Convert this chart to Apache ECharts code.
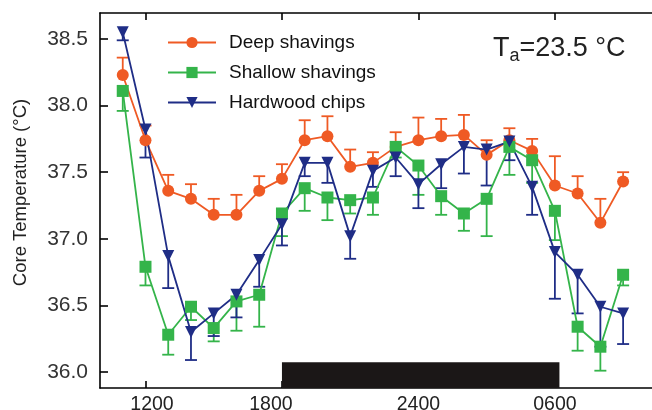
<!DOCTYPE html>
<html>
<head>
<meta charset="utf-8">
<script src="https://cdn.jsdelivr.net/npm/echarts@6/dist/echarts.min.js"></script>
<style>
  html, body { margin: 0; padding: 0; background: #fff; }
  #chart { width: 652px; height: 410px; }
</style>
</head>
<body>
<div id="chart"></div>
<script>
// hours of day, 11:00 on day 1 through 09:00 on day 2
const hours = [11, 12, 13, 14, 15, 16, 17, 18, 19, 20, 21, 22, 23, 24, 25, 26, 27, 28, 29, 30, 31, 32, 33];

const deepMean = [38.23, 37.74, 37.36, 37.30, 37.18, 37.18, 37.36, 37.45, 37.74, 37.77, 37.54, 37.57,
  37.69, 37.74, 37.77, 37.78, 37.63, 37.74, 37.66, 37.40, 37.34, 37.12, 37.43];
const deepErr = [0.13, 0.11, 0.12, 0.11, 0.12, 0.15, 0.11, 0.11, 0.15, 0.15, 0.13, 0.08,
  0.11, 0.17, 0.13, 0.15, 0.11, 0.09, 0.09, 0.22, 0.13, 0.18, 0.07];

const shallowMean = [38.11, 36.79, 36.28, 36.49, 36.33, 36.53, 36.58, 37.19, 37.38, 37.31, 37.29, 37.31,
  37.69, 37.55, 37.32, 37.19, 37.30, 37.69, 37.59, 37.21, 36.34, 36.19, 36.73];
const shallowErr = [0.15, 0.14, 0.15, 0.10, 0.10, 0.22, 0.24, 0.17, 0.17, 0.17, 0.10, 0.13,
  0.08, 0.22, 0.14, 0.13, 0.28, 0.21, 0.17, 0.22, 0.18, 0.18, 0.08];

const hardMean = [38.55, 37.82, 36.87, 36.30, 36.44, 36.58, 36.84, 37.11, 37.57, 37.57, 37.02, 37.51,
  37.61, 37.41, 37.56, 37.69, 37.67, 37.73, 37.39, 36.90, 36.73, 36.49, 36.44];
const hardErr = [0.06, 0.21, 0.24, 0.21, 0.17, 0.17, 0.20, 0.16, 0.10, 0.15, 0.17, 0.12,
  0.14, 0.18, 0.18, 0.20, 0.27, 0.14, 0.21, 0.35, 0.29, 0.30, 0.23];

const xTicks = [12, 18, 24, 30];
const xTickLabels = ["1200", "1800", "2400", "0600"];
const yTicks = [36.0, 36.5, 37.0, 37.5, 38.0, 38.5];
// dark phase, drawn as the black bar along the x axis
const darkPeriod = [18, 30.2];

const font = "Liberation Sans, Arial, sans-serif";
const orange = "#ef5a24";
const green = "#34b44a";
const blue = "#1f2d86";
const yMin = 35.88, yMax = 38.695;

const chart = echarts.init(document.getElementById("chart"));

function pairs(means) {
  return hours.map((h, i) => [h, means[i]]);
}
// one-sided error bar: dir 1 = up, -1 = down
function errData(means, errs, dir) {
  return hours.map((h, i) => [h, means[i], errs[i], dir]);
}
function errSeries(name, data, color) {
  return {
    type: "custom",
    name: name,
    data: data,
    z: 1,
    silent: true,
    renderItem(params, api) {
      const x = api.value(0), y = api.value(1), e = api.value(2), d = api.value(3);
      const p0 = api.coord([x, y]);
      const p1 = api.coord([x, y + d * e]);
      const style = { stroke: color, lineWidth: 1.8 };
      return {
        type: "group",
        children: [
          { type: "line", shape: { x1: p0[0], y1: p0[1], x2: p1[0], y2: p1[1] }, style: style },
          { type: "line", shape: { x1: p1[0] - 6, y1: p1[1], x2: p1[0] + 6, y2: p1[1] }, style: style }
        ]
      };
    }
  };
}
function lineSeries(name, data, color, symbol, rotate, size) {
  return {
    type: "line",
    name: name,
    data: data,
    z: 3,
    symbol: symbol,
    symbolRotate: rotate,
    symbolSize: size,
    showAllSymbol: true,
    lineStyle: { color: color, width: 1.8 },
    itemStyle: { color: color }
  };
}

const xBase = {
  type: "value",
  min: 10,
  max: 34.27,
  splitLine: { show: false },
  axisLine: { lineStyle: { color: "#000", width: 1.6 } },
  axisTick: { inside: true, length: 7, customValues: xTicks, lineStyle: { color: "#000", width: 1.6 } }
};

const labelText = { fontFamily: font, fontSize: 19.5, color: "#222" };

chart.setOption({
  backgroundColor: "#fff",
  animation: false,
  grid: { left: 100, right: 0, top: 13, bottom: 22, outerBoundsMode: "none" },
  title: {
    text: "{n|T}{s|a}{n|=23.5 °C}",
    left: 493,
    top: 33,
    padding: 0,
    textStyle: {
      rich: {
        n: { fontFamily: font, fontSize: 27, fontWeight: "normal", color: "#222" },
        s: { fontFamily: font, fontSize: 18, fontWeight: "normal", color: "#222", verticalAlign: "bottom", padding: [14, 0, 0, 0] }
      }
    }
  },
  legend: {
    orient: "vertical",
    left: 167,
    top: 33,
    padding: 0,
    itemWidth: 48,
    itemHeight: 14,
    itemGap: 11,
    data: ["Deep shavings", "Shallow shavings", "Hardwood chips"],
    textStyle: { fontFamily: font, fontSize: 19, lineHeight: 18, color: "#111", padding: [0, 0, 0, 8] }
  },
  xAxis: [
    Object.assign({}, xBase, {
      position: "bottom",
      axisLabel: {
        customValues: xTicks,
        margin: 7,
        formatter: v => "{t" + xTicks.indexOf(v) + "|" + xTickLabels[xTicks.indexOf(v)] + "}",
        rich: {
          t0: Object.assign({ padding: [0, 0, 0, 13] }, labelText),
          t1: Object.assign({ padding: [0, 22, 0, 0] }, labelText),
          t2: labelText,
          t3: labelText
        }
      }
    }),
    Object.assign({}, xBase, {
      position: "top",
      axisLabel: { show: false }
    })
  ],
  yAxis: {
    type: "value",
    min: yMin,
    max: yMax,
    name: "Core Temperature (°C)",
    nameLocation: "middle",
    nameGap: 70,
    nameTextStyle: { fontFamily: font, fontSize: 18.5, color: "#222", padding: [0, 0, 0, 16] },
    splitLine: { show: false },
    axisLine: { lineStyle: { color: "#000", width: 1.6 } },
    axisTick: { inside: true, length: 8, customValues: yTicks, lineStyle: { color: "#000", width: 1.6 } },
    axisLabel: {
      customValues: yTicks,
      fontFamily: font,
      fontSize: 21,
      color: "#333",
      margin: 12,
      formatter: v => v.toFixed(1)
    }
  },
  series: [
    errSeries("deepErr", errData(deepMean, deepErr, 1), orange),
    errSeries("shallowErr", errData(shallowMean, shallowErr, -1), green),
    errSeries("hardErr", errData(hardMean, hardErr, -1), blue),
    Object.assign(lineSeries("Deep shavings", pairs(deepMean), orange, "circle", 0, 12), {
      markArea: {
        silent: true,
        itemStyle: { color: "#1b1717" },
        data: [[{ xAxis: darkPeriod[0], yAxis: yMin }, { xAxis: darkPeriod[1], yAxis: 36.073 }]]
      }
    }),
    lineSeries("Shallow shavings", pairs(shallowMean), green, "rect", 0, 12),
    lineSeries("Hardwood chips", pairs(hardMean), blue, "triangle", 180, 12)
  ]
});
</script>
</body>
</html>
